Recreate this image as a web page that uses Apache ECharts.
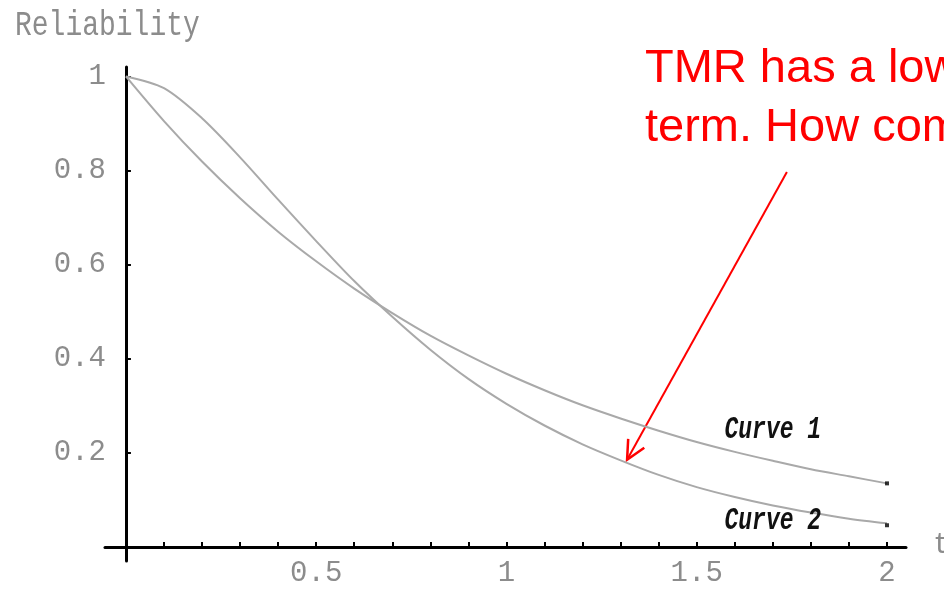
<!DOCTYPE html>
<html>
<head>
<meta charset="utf-8">
<script src="https://cdn.jsdelivr.net/npm/echarts@6/dist/echarts.min.js"></script>
<style>
html,body{margin:0;padding:0;background:#fff;}
#chart{width:944px;height:590px;}
</style>
</head>
<body>
<div id="chart"></div>
<script>
// time values (t)
const tValues = [0,0.1,0.2,0.3,0.4,0.5,0.6,0.7,0.8,0.9,1.0,1.1,1.2,1.3,1.4,1.5,1.6,1.7,1.8,1.9,2.0];
// Curve 1 (simplex)
const curve1 = [1.000,0.905,0.819,0.741,0.670,0.607,0.549,0.497,0.449,0.407,0.368,0.333,0.301,0.273,0.247,0.223,0.202,0.183,0.165,0.150,0.135];
// Curve 2 (TMR)
const curve2 = [1.000,0.975,0.911,0.828,0.738,0.650,0.565,0.489,0.419,0.357,0.304,0.258,0.218,0.184,0.153,0.127,0.106,0.088,0.073,0.060,0.050];
// ticks and labels
const xTickValues = [0.1,0.2,0.3,0.4,0.5,0.6,0.7,0.8,0.9,1.0,1.1,1.2,1.3,1.4,1.5,1.6,1.7,1.8,1.9,2.0];
const xLabelValues = [0.5,1,1.5,2];
const yTickValues = [0.2,0.4,0.6,0.8,1];
const curveLabels = ['Curve 1','Curve 2'];
const curveLabelPos = [[1.7,0.249],[1.7,0.055]];
const annotationLines = ['TMR has a lower reliability in the long', 'term. How come?'];
const arrowFrom = [1.737,0.797];
const arrowTo = [1.317,0.185];

const mono = '"Liberation Mono","DejaVu Sans Mono",monospace';
const chart = echarts.init(document.getElementById('chart'), null, {renderer:'canvas'});

const toPairs = (vals) => tValues.map((t,i)=>[t, vals[i]]);

chart.setOption({
  animation:false,
  backgroundColor:'#fff',
  grid:{left:105,right:38,top:67,bottom:29,containLabel:false,outerBoundsMode:'none'},
  xAxis:{
    type:'value', min:-0.055, max:2.05,
    axisLine:{show:true,onZero:true,lineStyle:{color:'#000',width:3}},
    axisTick:{show:true,inside:true,length:5,customValues:xTickValues,lineStyle:{color:'#000',width:2}},
    axisLabel:{show:true,customValues:xLabelValues,margin:-2,color:'#8c8c8c',fontFamily:mono,fontSize:29,
      formatter:(v)=>String(v)},
    splitLine:{show:false}
  },
  yAxis:{
    type:'value', min:-0.03, max:1.02,
    axisLine:{show:true,onZero:true,lineStyle:{color:'#000',width:3}},
    axisTick:{show:true,inside:true,length:5,customValues:yTickValues,lineStyle:{color:'#000',width:2}},
    axisLabel:{show:true,customValues:yTickValues,margin:-1,color:'#8c8c8c',fontFamily:mono,fontSize:29,
      formatter:(v)=>String(v)},
    splitLine:{show:false}
  },
  series:[
    {type:'line',name:'Curve 1',data:toPairs(curve1),smooth:0.3,showSymbol:false,
      lineStyle:{color:'#a9a9a9',width:2},z:2},
    {type:'line',name:'Curve 2',data:toPairs(curve2),smooth:0.3,showSymbol:false,
      lineStyle:{color:'#a9a9a9',width:2},z:2},
    {type:'scatter',data:[[tValues[tValues.length-1],curve1[curve1.length-1]],[tValues[tValues.length-1],curve2[curve2.length-1]-0.004]],
      symbol:'rect',symbolSize:4,itemStyle:{color:'#000'},z:3}
  ]
});

const px = (p)=>chart.convertToPixel({gridIndex:0}, p);
const tip = px(arrowTo), from = px(arrowFrom);
const ang = Math.atan2(from[1]-tip[1], from[0]-tip[0]);
const headLen = 21, headAng = 26*Math.PI/180;
const arm = (s)=>[tip[0]+headLen*Math.cos(ang+s*headAng), tip[1]+headLen*Math.sin(ang+s*headAng)];

const graphics = [
  {type:'text',x:15,y:8,scaleY:1.25,style:{text:'Reliability',font:'28px '+mono,fill:'#8c8c8c'}},
  {type:'text',left:933,top:531,style:{text:'t',font:'29px '+mono,fill:'#8c8c8c'}},
  {type:'text',x:645,y:69,style:{text:annotationLines[0],font:'47px "Liberation Sans",Arial,sans-serif',fill:'#ff0000',verticalAlign:'middle',align:'left'}},
  {type:'text',x:645,y:128,style:{text:annotationLines[1],font:'47px "Liberation Sans",Arial,sans-serif',fill:'#ff0000',verticalAlign:'middle',align:'left'}},
  {type:'line',shape:{x1:from[0],y1:from[1],x2:tip[0],y2:tip[1]},style:{stroke:'#ff0000',lineWidth:2}},
  {type:'polyline',shape:{points:[arm(1),tip,arm(-1)]},style:{stroke:'#ff0000',lineWidth:2.5,fill:null}}
];
curveLabels.forEach((s,i)=>{
  const p = px(curveLabelPos[i]);
  graphics.push({type:'text',x:p[0],y:p[1],scaleY:1.35,z:5,style:{text:s,font:'italic bold 23px '+mono,fill:'#111',align:'center',verticalAlign:'middle'}});
});
chart.setOption({graphic:graphics});
</script>
</body>
</html>
